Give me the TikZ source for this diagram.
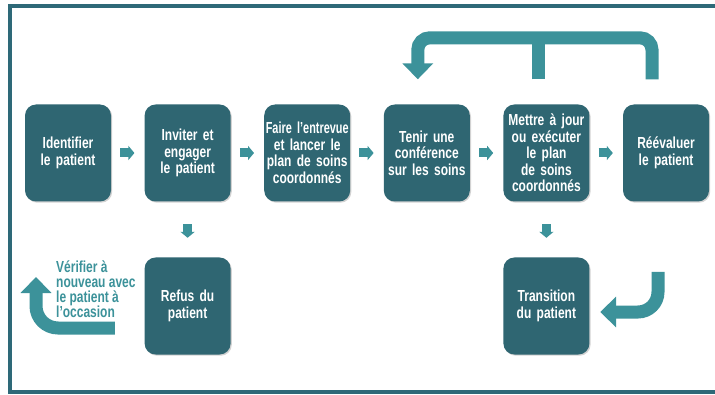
\documentclass[tikz,border=0pt]{standalone}
\usepackage{fontspec}
\setmainfont{Liberation Sans}[FakeStretch=0.75]
\usetikzlibrary{arrows.meta,shadows}
\definecolor{boxteal}{RGB}{47,102,114}
\definecolor{arrowteal}{RGB}{60,146,154}
\definecolor{frameteal}{RGB}{46,105,120}

\tikzset{
  stepnode/.style={fill=boxteal, rounded corners=11pt, minimum width=86pt,
    minimum height=97pt, text width=92pt, inner xsep=-3pt, inner ysep=0pt,
    align=center, text=white, font=\bfseries\fontsize{16}{16.5}\selectfont,
    drop shadow={opacity=0.35, shadow xshift=1.2pt, shadow yshift=-1.2pt}},
  smallarrow/.style={arrowteal, line width=9pt, -{Triangle[width=14pt,length=6pt]}},
  bigarrow/.style={arrowteal, line width=13pt, -{Triangle[width=30pt,length=16pt]}},
}

\begin{document}
\begin{tikzpicture}[x=1pt, y=1pt]
  \useasboundingbox[fill=white] (0,0) rectangle (715,394);

  % frame
  \draw[frameteal, line width=3.5pt] (715,388) -- (10,388) -- (10,2) -- (715,2);

  % main row
  \node[stepnode] (identify) at (68,241) {Identifier\\le patient};
  \node[stepnode] (invite) at (187.6,241) {Inviter et\\engager\\le patient};
  \node[stepnode] (interview) at (307.2,241) {{\addfontfeature{FakeStretch=0.68}Faire l’entrevue}\\et lancer le\\plan de soins\\coordonnés};
  \node[stepnode] (conference) at (426.8,241) {Tenir une\\conférence\\sur les soins};
  \node[stepnode] (update) at (546.4,241) {Mettre à jour\\ou exécuter\\le plan\\de soins\\coordonnés};
  \node[stepnode] (reassess) at (666,241) {Réévaluer\\le patient};

  % second row
  \node[stepnode] (refusal) at (187.6,88) {Refus du\\patient};
  \node[stepnode] (transition) at (546.4,88) {Transition\\du patient};

  % small arrows
  \draw[smallarrow, shorten <=9pt, shorten >=10pt] (identify) -- (invite);
  \draw[smallarrow, shorten <=9pt, shorten >=10pt] (invite) -- (interview);
  \draw[smallarrow, shorten <=9pt, shorten >=10pt] (interview) -- (conference);
  \draw[smallarrow, shorten <=9pt, shorten >=10pt] (conference) -- (update);
  \draw[smallarrow, shorten <=9pt, shorten >=10pt] (update) -- (reassess);
  \draw[smallarrow, shorten <=22.5pt, shorten >=19.5pt] (invite) -- (refusal);
  \draw[smallarrow, shorten <=22.5pt, shorten >=19.5pt] (update) -- (transition);

  % loop back to the conference
  \coordinate (looptip) at ([shift={(-9,25)}]conference.north);
  \draw[bigarrow, rounded corners=12pt] ([shift={(-14,25)}]reassess.north) -- ++(0,41.5) -| (looptip);
  \draw[arrowteal, line width=13pt] ([shift={(-8.4,25)}]update.north) -- ++(0,41.5);

  % recheck later
  \coordinate (rechecktip) at (36,117);
  \draw[bigarrow, rounded corners=22pt] ([shift={(-29.6,-22)}]refusal.west) -| (rechecktip);
  \node[anchor=west, align=left, inner sep=0pt, text=arrowteal,
        font=\bfseries\fontsize{16}{15}\selectfont] (recheck) at (56,105)
        {Vérifier à\\nouveau avec\\le patient à\\l’occasion};

  % into the transition
  \draw[bigarrow, rounded corners=20pt] ([shift={(111.6,34)}]transition.center) |- ([shift={(10.6,-6)}]transition.east);
\end{tikzpicture}
\end{document}
